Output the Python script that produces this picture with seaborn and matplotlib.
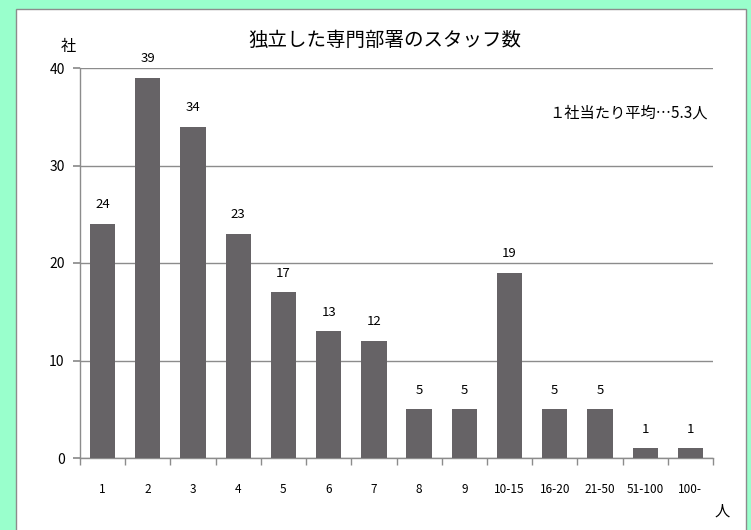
import numpy as np
import pandas as pd
import matplotlib.pyplot as plt
import seaborn as sns
from matplotlib.patches import Rectangle

# staff-count buckets and number of companies
categories = ['1', '2', '3', '4', '5', '6', '7', '8', '9',
              '10-15', '16-20', '21-50', '51-100', '100-']
companies = [24, 39, 34, 23, 17, 13, 12, 5, 5, 19, 5, 5, 1, 1]

title = '独立した専門部署のスタッフ数'
note = '１社当たり平均…5.3人'

sns.set_theme(style='white')
plt.rcParams['font.family'] = ['Noto Sans CJK JP', 'DejaVu Sans']
plt.rcParams['text.color'] = 'black'
plt.rcParams['xtick.color'] = 'black'
plt.rcParams['ytick.color'] = 'black'

df = pd.DataFrame({'cat': categories, 'n': companies})

fig = plt.figure(figsize=(7.51, 5.30), dpi=100)
fig.patch.set_facecolor('#99FFCC')
# white chart panel behind the axes
fig.patches.append(Rectangle((16 / 751, -0.01), (746 - 16) / 751, 1.01 - 9 / 530,
                             transform=fig.transFigure, facecolor='white',
                             edgecolor='#8c8c8c', linewidth=1, zorder=-5))

ax = fig.add_axes([80 / 751, 1 - 458 / 530, (713 - 80) / 751, (458 - 68) / 530])
ax.set_zorder(1)
ax.set_facecolor('none')
sns.barplot(data=df, x='cat', y='n', color='#666366', width=0.56,
            saturation=1, linewidth=0, ax=ax, zorder=3)

ax.set_ylim(0, 40)
ax.set_xlim(-0.5, len(categories) - 0.5)
ax.set_yticks([0, 10, 20, 30, 40])
ax.yaxis.grid(True, color='#8c8c8c', linewidth=1)
ax.set_axisbelow(True)
ax.set_xlabel('')
ax.set_ylabel('')
for s in ['top', 'right']:
    ax.spines[s].set_visible(False)
for s in ['left', 'bottom']:
    ax.spines[s].set_color('#8c8c8c')
    ax.spines[s].set_linewidth(1)

ax.tick_params(axis='y', labelsize=10, length=5, color='#8c8c8c', left=True,
               pad=6)
ax.tick_params(axis='x', labelsize=8.5, bottom=False, pad=12)
# tick marks at category boundaries
ax.set_xticks(np.arange(-0.5, len(categories), 1), minor=True)
ax.tick_params(axis='x', which='minor', bottom=True, length=5,
               color='#8c8c8c', width=1)

for i, v in enumerate(companies):
    ax.text(i, v + 1.3, str(v), ha='center', va='bottom', fontsize=9.5)

fig.text(385 / 751, 1 - 40 / 530, title, ha='center', va='center',
         fontsize=14)
fig.text(68 / 751, 1 - 47 / 530, '社', ha='center', va='center', fontsize=11)
fig.text(722 / 751, 1 - 511 / 530, '人', ha='center', va='center', fontsize=11)
fig.text(708 / 751, 1 - 113 / 530, note, ha='right', va='center',
         fontsize=11)

fig.savefig('out.png', dpi=100, facecolor=fig.get_facecolor())
